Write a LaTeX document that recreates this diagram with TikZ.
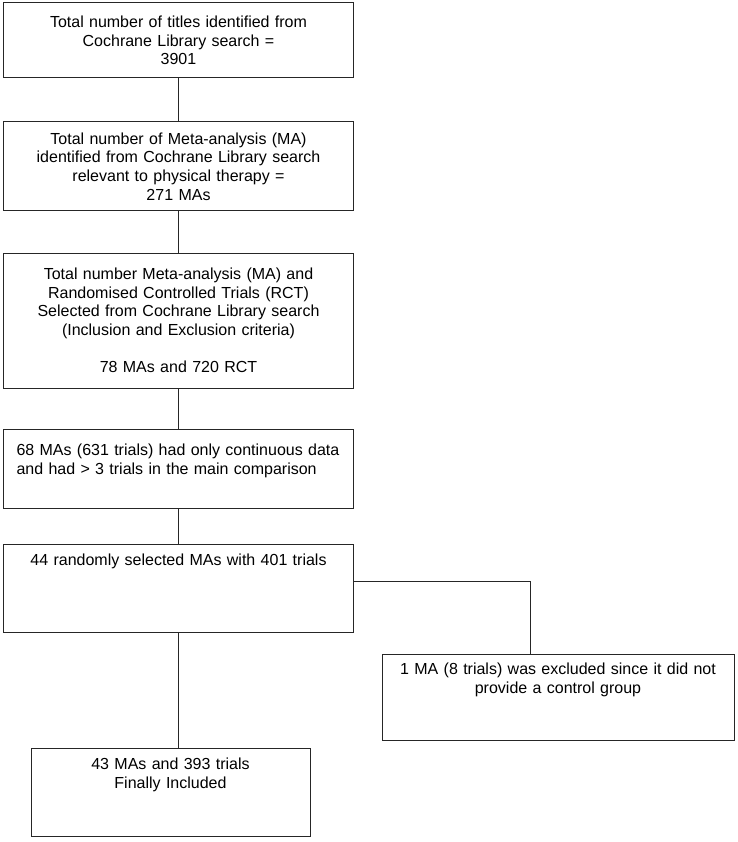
\documentclass[tikz,border=0pt]{standalone}
\usepackage{fontspec}
\setmainfont{Liberation Sans}
\usepackage{tikz}

\begin{document}
\begin{tikzpicture}[x = 1pt, y = -1pt,
  box/.style = {draw = black!85, line width = 1pt, rectangle, inner xsep = 10pt, inner ysep = 0pt,
    text width = 330pt, align = center, font = \fontsize{16}{18.6}\selectfont},
  link/.style = {draw = black!85, line width = 1pt}]

\useasboundingbox (0, 0) rectangle (737, 842);

\node[box, minimum height = 75pt] (titles) at (178.5, 40.5) {Total number of titles identified from\\Cochrane Library search =\\3901};
\node[box, minimum height = 89pt] (metas) at (178.5, 166.5) {Total number of Meta-analysis (MA)\\identified from Cochrane Library search\\relevant to physical therapy =\\271 MAs};
\node[box, minimum height = 135pt] (chosen) at (178.5, 320.5) {Total number Meta-analysis (MA) and\\Randomised Controlled Trials (RCT)\\Selected from Cochrane Library search\\(Inclusion and Exclusion criteria)\\\mbox{}\\78 MAs and 720 RCT};
\node[box, minimum height = 79pt, inner xsep = 13pt, text width = 324pt, align = left] (contin) at (178.5, 468.5) {68 MAs (631 trials) had only continuous data\\and had > 3 trials in the main comparison\\\mbox{}};
\node[box, minimum height = 88pt] (random) at (178.5, 588) {44 randomly selected MAs with 401 trials\\\mbox{}\\\mbox{}\\\mbox{}};
\node[box, minimum height = 86pt, text width = 332pt] (excl) at (558, 697) {1 MA (8 trials) was excluded since it did not\\provide a control group\\\mbox{}\\\mbox{}};
\node[box, minimum height = 88pt, text width = 259pt] (final) at (170.5, 792) {43 MAs and 393 trials\\Finally Included\\\mbox{}\\\mbox{}};

\draw[link] (titles) -- (metas);
\draw[link] (metas) -- (chosen);
\draw[link] (chosen) -- (contin);
\draw[link] (contin) -- (random);
\draw[link] (random.south) -- (random.south |- final.north);
\draw[link] ([yshift = 7pt]random.east) -| ([xshift = -28pt]excl.north);

\end{tikzpicture}
\end{document}
